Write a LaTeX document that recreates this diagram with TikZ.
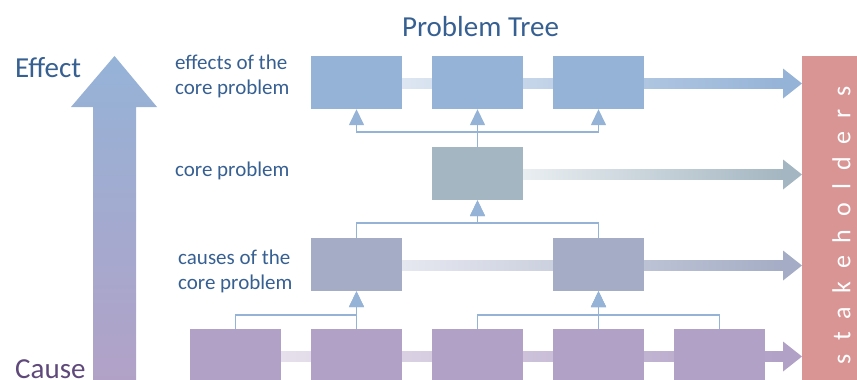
\documentclass[tikz,border=0pt]{standalone}
\usepackage{fontspec}
\setmainfont{Carlito}
\usetikzlibrary{arrows.meta,calc}
\definecolor{effC}{HTML}{95B3D7}
\definecolor{coreC}{HTML}{A4B6C1}
\definecolor{causeC}{HTML}{A4ADC5}
\definecolor{rootC}{HTML}{B2A1C7}
\definecolor{stakeC}{HTML}{D99594}
\definecolor{txtC}{HTML}{376092}
\definecolor{causeTxtC}{HTML}{5F497A}
\definecolor{topL}{HTML}{DDE6F2}
\definecolor{coreL}{HTML}{E9EEF1}
\definecolor{causeL}{HTML}{E6E8F0}
\definecolor{rootL}{HTML}{E6E0EC}
\pgfdeclarelayer{bg}
\pgfsetlayers{bg,main}
\begin{document}
\begin{tikzpicture}[x=1pt,y=-1pt,
  box/.style={rectangle,minimum width=91pt,minimum height=53pt,inner sep=0pt},
  conn/.style={draw=effC,line width=1.5pt},
  tip/.style={-{Triangle[width=15pt,length=16pt]}},
  lbl/.style={inner sep=0pt,text=txtC,font=\fontsize{21}{25}\selectfont,align=left},
  big/.style={inner sep=0pt,font=\fontsize{29}{35}\selectfont},
]
\useasboundingbox (0,0) rectangle (857,380);

% big cause -> effect arrow
\shade[top color=effC, bottom color=rootC]
  (93,385) -- (93,107) -- (71,107) -- (114.5,56) -- (157,107) -- (136,107) -- (136,385) -- cycle;

% texts
\node[big,anchor=base west,text=txtC] (eff) at (15,77) {Effect};
\node[big,anchor=base west,text=causeTxtC] (cau) at (15,378) {Cause};
\node[big,anchor=base,text=txtC] (title) at (480.5,36) {Problem Tree};
\node[lbl,anchor=west] (leff) at (175,76.5) {effects of the\\core problem};
\node[lbl,anchor=base west] (lcore) at (175,176) {core problem};
\node[lbl,anchor=west] (lcause) at (178,271) {causes of the\\core problem};

% boxes
\node[box,fill=effC] (t1) at (356.5,82.5) {};
\node[box,fill=effC] (t2) at (477.5,82.5) {};
\node[box,fill=effC] (t3) at (598.5,82.5) {};
\node[box,fill=coreC] (core) at (477.5,173.5) {};
\node[box,fill=causeC] (c1) at (356.5,264.5) {};
\node[box,fill=causeC] (c2) at (598.5,264.5) {};
\node[box,fill=rootC] (b1) at (235.5,355.5) {};
\node[box,fill=rootC] (b2) at (356.5,355.5) {};
\node[box,fill=rootC] (b3) at (477.5,355.5) {};
\node[box,fill=rootC] (b4) at (598.5,355.5) {};
\node[box,fill=rootC] (b5) at (719.5,355.5) {};

% stakeholders
\node[fill=stakeC,anchor=north west,minimum width=80pt,minimum height=340pt,inner sep=0pt] (sh) at (802,56) {};
\node[rotate=90,text=white,inner sep=0pt,font=\fontsize{26}{30}\selectfont] (shl) at (841.5,225)
  {\spaceskip=13pt s t a k e h o l d e r s};

% row arrows to stakeholders
\begin{pgfonlayer}{bg}
\foreach \n/\cl/\cr in {t1/topL/effC, core/coreL/coreC, c1/causeL/causeC, b1/rootL/rootC}{
  \coordinate (e) at ($(sh.west |- \n.east)+(0,1)$);
  \shade[left color=\cl, right color=\cr] ($(\n.east |- e)+(0,-5)$) rectangle ($(e)+(-19,5)$);
  \fill[\cr] ($(e)+(-19,-15)$) -- (e) -- ($(e)+(-19,15)$) -- cycle;
}
\end{pgfonlayer}

% connectors
\draw[conn,tip] (core.north) -- ++(0,-15) -| (t1.south);
\draw[conn,tip] (core.north) -- ++(0,-15) -| (t3.south);
\draw[conn,tip] (core.north) -- (t2.south);
\draw[conn,tip] (c1.north) -- ++(0,-15) -| (core.south);
\draw[conn,tip] (c2.north) -- ++(0,-15) -| (core.south);
\draw[conn,tip] (b1.north) -- ++(0,-14) -| (c1.south);
\draw[conn,tip] (b2.north) -- (c1.south);
\draw[conn,tip] (b3.north) -- ++(0,-14) -| (c2.south);
\draw[conn,tip] (b5.north) -- ++(0,-14) -| (c2.south);
\draw[conn,tip] (b4.north) -- (c2.south);
\end{tikzpicture}
\end{document}
